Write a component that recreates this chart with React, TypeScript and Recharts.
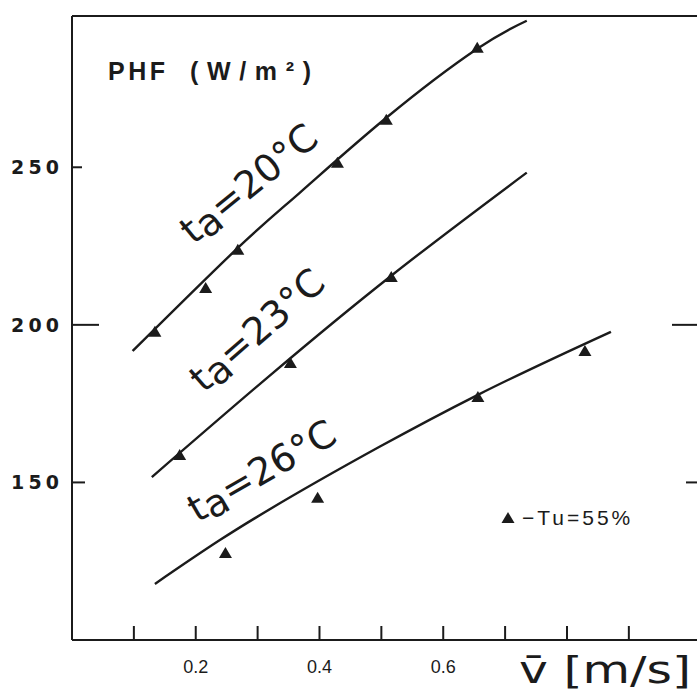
import { ComposedChart, Line, Scatter, XAxis, YAxis, ReferenceDot, Legend } from 'recharts';

const ink = '#1b1b1b';

// fitted curves
const curve20V = [0.098, 0.268, 0.368, 0.508, 0.655, 0.735];
const curve20PHF = [191.7, 224.4, 241.9, 265.7, 287.6, 296.5];
const curve23V = [0.129, 0.516, 0.735];
const curve23PHF = [151.7, 215.6, 248.3];
const curve26V = [0.134, 0.239, 0.497, 0.656, 0.871];
const curve26PHF = [117.8, 131.7, 161.3, 177.8, 197.8];

// measured points, Tu = 55%
const meas20V = [0.134, 0.216, 0.268, 0.429, 0.508, 0.655];
const meas20PHF = [197.8, 211.7, 223.8, 251.4, 265.1, 287.9];
const meas23V = [0.174, 0.353, 0.516];
const meas23PHF = [158.7, 187.9, 215.2];
const meas26V = [0.248, 0.397, 0.656, 0.829];
const meas26PHF = [127.6, 145.1, 177.1, 191.7];

const xTicks = [0.1, 0.2, 0.3, 0.4, 0.5, 0.6, 0.7, 0.8, 0.9];
const xTickLabels = ['0.2', '0.4', '0.6'];
const yTicks = [150, 200, 250];
const yTickLen = [13, 27, 10];
const rightTicks = [150, 200];
const rightTickLen = [14, 28];

const labelTemps = ['20', '23', '26'];
const labelV = [0.299, 0.313, 0.317];
const labelPHF = [241.6, 195.2, 150.1];
const labelAngle = [-39, -41, -30];

const pts = (xs: number[], ys: number[]) => xs.map((v, i) => ({ v, phf: ys[i] }));

const BottomTick = ({ x, y, payload }: any) => {
  const txt = String(payload.value);
  return (
    <g>
      <line x1={x} y1={y} x2={x} y2={y - 14} stroke={ink} strokeWidth={2} />
      {xTickLabels.includes(txt) && (
        <text x={x} y={y + 33} textAnchor="middle" fontFamily="Liberation Sans, Arial" fontSize={18} fill={ink}>
          {txt}
        </text>
      )}
    </g>
  );
};

const TopTick = ({ x, y }: any) => (
  <line x1={x} y1={y} x2={x} y2={y + 14} stroke={ink} strokeWidth={2} />
);

const LeftTick = ({ x, y, payload }: any) => {
  const i = yTicks.indexOf(payload.value);
  return (
    <g>
      <line x1={x} y1={y} x2={x + yTickLen[i]} y2={y} stroke={ink} strokeWidth={2} />
      <text x={11} y={y + 7} textLength={48} lengthAdjust="spacing" fontFamily="DejaVu Sans" fontWeight="bold" fontSize={19} fill={ink}>
        {payload.value}
      </text>
    </g>
  );
};

const RightTick = ({ x, y, payload }: any) => {
  const i = rightTicks.indexOf(payload.value);
  return <line x1={x} y1={y} x2={x - rightTickLen[i]} y2={y} stroke={ink} strokeWidth={2} />;
};

const Tri = ({ cx, cy }: any) => (
  <path d={`M${cx},${cy - 6} L${cx + 6.5},${cy + 5} L${cx - 6.5},${cy + 5} Z`} fill={ink} />
);

const CurveLabel = (i: number) => ({ cx, cy }: any) => (
  <text
    x={cx}
    y={cy}
    transform={`rotate(${labelAngle[i]} ${cx} ${cy})`}
    textAnchor="middle"
    fontFamily="DejaVu Sans"
    fontSize={38}
    fill={ink}
  >
    t<tspan dy={5}>a</tspan>
    <tspan dy={-5}>={labelTemps[i]}°C</tspan>
  </text>
);

const AxisTitle = () => (
  <text x={519} y={683} textLength={172} lengthAdjust="spacingAndGlyphs" fontFamily="DejaVu Sans" fontSize={38} fill={ink}>
    v̄ [m/s]
  </text>
);

const PhfTitle = () => (
  <g fontFamily="Liberation Sans, Arial" fontWeight="bold" fontSize={25} fill={ink}>
    <text x={108} y={80} textLength={57} lengthAdjust="spacing">PHF</text>
    <text x={190} y={80} textLength={121} lengthAdjust="spacing">(W/m²)</text>
  </g>
);

const LegendBox = () => (
  <div style={{ display: 'flex', alignItems: 'center', fontFamily: 'Liberation Sans, Arial', fontSize: 21, color: ink }}>
    <svg width={14} height={12}>
      <path d="M7,0 L13.5,11 L0.5,11 Z" fill={ink} />
    </svg>
    <span style={{ marginLeft: 7, letterSpacing: 3 }}>−Tu=55%</span>
  </div>
);

export default function App() {
  return (
    <div style={{ position: 'absolute', left: 0, top: 0, width: 697, height: 694, overflow: 'hidden', background: '#fff' }}>
      <ComposedChart width={702} height={694} margin={{ top: 15, right: 1, left: 71, bottom: 53 }}>
        <XAxis
          dataKey="v"
          type="number"
          domain={[0, 1.015]}
          allowDataOverflow
          ticks={xTicks}
          height={1}
          tickSize={0}
          tickMargin={0}
          tickLine={false}
          axisLine={{ stroke: ink, strokeWidth: 2 }}
          tick={(p: any) => <BottomTick {...p} />}
          label={<AxisTitle />}
        />
        <XAxis
          xAxisId="top"
          orientation="top"
          type="number"
          domain={[0, 1.015]}
          allowDataOverflow
          ticks={xTicks}
          height={1}
          tickSize={0}
          tickMargin={0}
          tickLine={false}
          axisLine={{ stroke: ink, strokeWidth: 2 }}
          tick={(p: any) => <TopTick {...p} />}
        />
        <YAxis
          dataKey="phf"
          type="number"
          domain={[100, 298]}
          allowDataOverflow
          ticks={yTicks}
          width={1}
          tickSize={0}
          tickMargin={0}
          tickLine={false}
          axisLine={{ stroke: ink, strokeWidth: 2 }}
          tick={(p: any) => <LeftTick {...p} />}
          label={<PhfTitle />}
        />
        <YAxis
          yAxisId="r"
          orientation="right"
          type="number"
          domain={[100, 298]}
          allowDataOverflow
          ticks={rightTicks}
          width={1}
          tickSize={0}
          tickMargin={0}
          tickLine={false}
          axisLine={false}
          tick={(p: any) => <RightTick {...p} />}
        />
        <Line data={pts(curve20V, curve20PHF)} dataKey="phf" type="natural" stroke={ink} strokeWidth={2.4} dot={false} isAnimationActive={false} />
        <Line data={pts(curve23V, curve23PHF)} dataKey="phf" type="monotone" stroke={ink} strokeWidth={2.4} dot={false} isAnimationActive={false} />
        <Line data={pts(curve26V, curve26PHF)} dataKey="phf" type="monotone" stroke={ink} strokeWidth={2.4} dot={false} isAnimationActive={false} />
        <Scatter data={pts(meas20V, meas20PHF)} dataKey="phf" shape={<Tri />} isAnimationActive={false} />
        <Scatter data={pts(meas23V, meas23PHF)} dataKey="phf" shape={<Tri />} isAnimationActive={false} />
        <Scatter data={pts(meas26V, meas26PHF)} dataKey="phf" shape={<Tri />} isAnimationActive={false} />
        {labelTemps.map((t, i) => (
          <ReferenceDot key={t} x={labelV[i]} y={labelPHF[i]} r={0} shape={CurveLabel(i)} />
        ))}
        <Legend
          verticalAlign="middle"
          align="center"
          content={<LegendBox />}
          wrapperStyle={{ position: 'absolute', left: 501, top: 506, width: 180, bottom: 'auto', right: 'auto' }}
        />
      </ComposedChart>
    </div>
  );
}
